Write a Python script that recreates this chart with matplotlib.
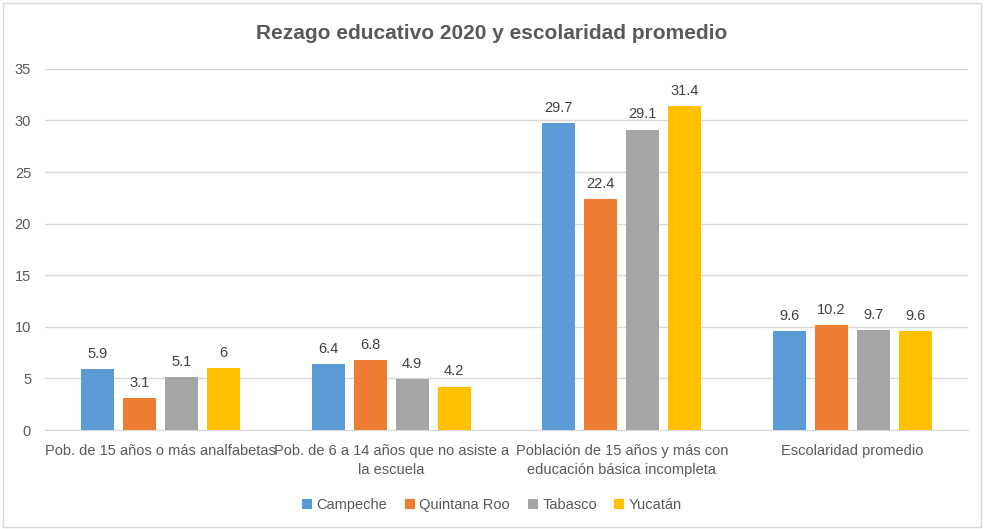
import matplotlib.pyplot as plt
import numpy as np
from matplotlib.patches import Rectangle

categories = ["Pob. de 15 años o más analfabetas",
              "Pob. de 6 a 14 años que no asiste a\nla escuela",
              "Población de 15 años y más con\neducación básica incompleta",
              "Escolaridad promedio"]
states = ["Campeche", "Quintana Roo", "Tabasco", "Yucatán"]
campeche = [5.9, 6.4, 29.7, 9.6]
quintana_roo = [3.1, 6.8, 22.4, 10.2]
tabasco = [5.1, 4.9, 29.1, 9.7]
yucatan = [6, 4.2, 31.4, 9.6]
colors = ["#5B9BD5", "#ED7D31", "#A5A5A5", "#FFC000"]

plt.rcParams['font.family'] = ['Liberation Sans', 'DejaVu Sans']

fig = plt.figure(figsize=(9.84, 5.29), dpi=100)
ax = fig.add_axes([0.0457, 0.187, 0.938, 0.683])

x = np.arange(len(categories))
width = 0.143
step = 0.182
series = [campeche, quintana_roo, tabasco, yucatan]
for i, (vals, name, c) in enumerate(zip(series, states, colors)):
    pos = x + (i - 1.5) * step
    bars = ax.bar(pos, vals, width, color=c, label=name, zorder=3)
    for b, v in zip(bars, vals):
        ax.text(b.get_x() + b.get_width() / 2, v + 0.8, f"{v:g}",
                ha="center", va="bottom", fontsize=10.5, color="#404040")

ax.set_xlim(-0.5, 3.5)
ax.set_ylim(0, 35)
ax.set_yticks(range(0, 36, 5))
ax.yaxis.grid(True, color="#D9D9D9", linewidth=1, zorder=0)
for s in ["top", "right", "left"]:
    ax.spines[s].set_visible(False)
ax.spines["bottom"].set_color("#D9D9D9")
ax.tick_params(axis="both", length=0, labelsize=10.5, colors="#595959")
ax.tick_params(axis="y", pad=10)
ax.set_xticks(x)
ax.set_xticklabels(categories, va="top", linespacing=1.5)
ax.tick_params(axis="x", pad=10)

fig.suptitle("Rezago educativo 2020 y escolaridad promedio", y=0.955,
             fontsize=15, fontweight="bold", color="#595959")

leg = fig.legend(loc="center", bbox_to_anchor=(0.5, 0.045), ncol=4, frameon=False,
                 fontsize=10.5, handlelength=0.7, handleheight=0.7,
                 handletextpad=0.3, columnspacing=1.2)
for t in leg.get_texts():
    t.set_color("#595959")

fig.patches.append(Rectangle((0.003, 0.003), 0.994, 0.991, transform=fig.transFigure,
                             fill=False, edgecolor="#D9D9D9", linewidth=1))

fig.savefig("out.png", dpi=100)
